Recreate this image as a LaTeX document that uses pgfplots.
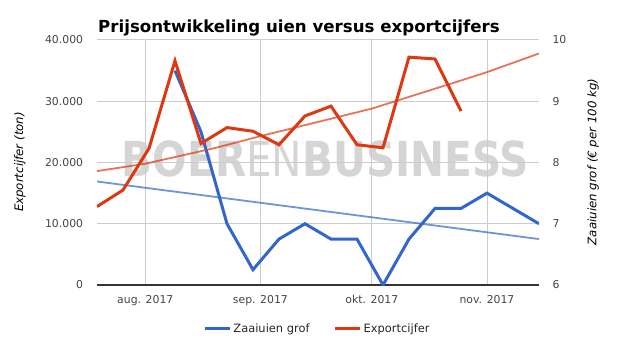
\documentclass[border=0pt]{standalone}
\usepackage{pgfplots}
\pgfplotsset{compat=1.18}
\usepackage{fontspec}
\setmainfont{DejaVu Sans}
\definecolor{cblue}{HTML}{3366CC}
\definecolor{cred}{HTML}{DC3912}
\definecolor{gridc}{HTML}{CCCCCC}
\definecolor{wm}{HTML}{D5D5D5}
\definecolor{tickc}{HTML}{444444}
\definecolor{axisc}{HTML}{333333}

\begin{document}
\begin{tikzpicture}
\path[use as bounding box] (-97bp,-72bp) rectangle (537bp,285bp);
% watermark
\node[anchor=base west, inner sep=0pt, xscale=0.842, text=wm,
      font=\fontsize{48.4}{50}\selectfont] at (24.7bp,108bp)
      {\textbf{BOER}EN\textbf{BUSINESS}};

% right axis: Zaaiuien grof
\begin{axis}[
  at={(0,0)}, anchor=south west,
  scale only axis, width=442bp, height=245bp,
  xmin=-13, xmax=106, ymin=6, ymax=10,
  scaled x ticks=false, scaled y ticks=false,
  axis x line*=bottom, axis y line*=right,
  x axis line style={draw=axisc, line width=1.3bp, -},
  y axis line style={draw=none},
  xtick={0,31,61,92},
  xticklabels={aug. 2017, sep. 2017, okt. 2017, nov. 2017},
  ytick={6,7,8,9,10},
  yticklabels={6,7,8,9,10},
  major tick length=0pt,
  xmajorgrids, ymajorgrids,
  grid style={draw=gridc, line width=1bp},
  tick label style={font=\fontsize{10.9}{12}\selectfont, text=tickc},
  xticklabel style={anchor=base, yshift=-18.3bp},
  yticklabel style={xshift=10bp},
]
\addplot[cblue, opacity=0.7, line width=1.8bp, forget plot]
  coordinates {(-13,7.69) (106,6.75)};
\addplot[cblue, line width=3bp, forget plot] coordinates {
  (8,9.5) (15,8.5) (22,7.0) (29,6.25) (36,6.75) (43,7.0) (50,6.75)
  (57,6.75) (64,6.0) (71,6.75) (78,7.25) (85,7.25) (92,7.5) (106,7.0)};
\end{axis}

% left axis: Exportcijfer
\begin{axis}[
  at={(0,0)}, anchor=south west,
  scale only axis, width=442bp, height=245bp,
  xmin=-13, xmax=106, ymin=0, ymax=40000,
  scaled x ticks=false, scaled y ticks=false,
  hide x axis,
  axis y line*=left,
  y axis line style={draw=none},
  ytick={0,10000,20000,30000,40000},
  yticklabels={0,10.000,20.000,30.000,40.000},
  major tick length=0pt,
  tick label style={font=\fontsize{10.9}{12}\selectfont, text=tickc},
  yticklabel style={xshift=-10.4bp},
  legend style={at={(0.4989,-0.1784)}, anchor=center, draw=none, fill=none,
    font=\fontsize{11.5}{13}\selectfont, text=black!85,
    /tikz/every even column/.append style={column sep=22bp}},
  legend columns=2,
  legend image code/.code={\draw[#1, line width=3bp] (0bp,0bp) -- (25bp,0bp);},
]
\addlegendimage{cblue}
\addlegendentry{Zaaiuien grof}
\addplot[cred, opacity=0.7, line width=1.8bp, forget plot] coordinates {
  (-13,18600) (0,19800) (19,22400) (31,24300) (61,28800) (84,33200) (92,34750) (106,37800)};
\addplot[cred, line width=3bp] coordinates {
  (-13,12800) (-6,15500) (1,22300) (8,36600) (15,23100) (22,25700) (29,25100)
  (36,22900) (43,27600) (50,29200) (57,22900) (64,22400) (71,37200) (78,36900) (85,28400)};
\addlegendentry{Exportcijfer}
\end{axis}

\node[anchor=base, font=\fontsize{16.7}{19}\selectfont\bfseries] at (202bp,252.5bp)
  {Prijsontwikkeling uien versus exportcijfers};
\node[rotate=90, font=\fontsize{11.8}{13}\selectfont\itshape] at (-77bp,123bp)
  {Exportcijfer (ton)};
\node[rotate=90, font=\fontsize{11.8}{13}\selectfont\itshape] at (496bp,123bp)
  {Zaaiuien grof (€ per 100 kg)};
\end{tikzpicture}
\end{document}
